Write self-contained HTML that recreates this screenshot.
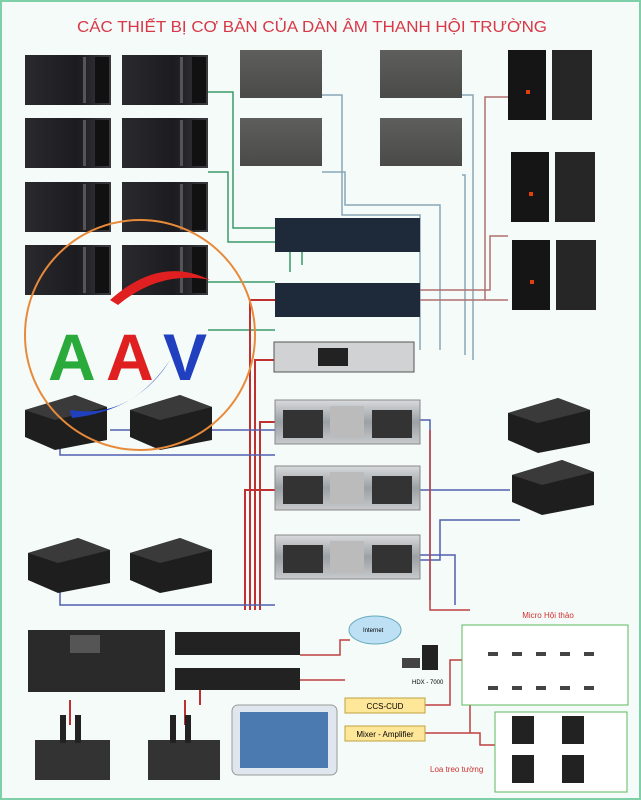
<!DOCTYPE html><html><head><meta charset="utf-8"><style>body{margin:0}svg{display:block}</style></head><body>
<svg width="641" height="800" viewBox="0 0 641 800" xmlns="http://www.w3.org/2000/svg" font-family="Liberation Sans, sans-serif">
<defs>
<linearGradient id="spk" x1="0" x2="1"><stop offset="0" stop-color="#2a2a2e"/><stop offset="0.6" stop-color="#1c1c20"/><stop offset="1" stop-color="#3a3a3e"/></linearGradient>
<linearGradient id="gry" x1="0" y1="0" x2="0" y2="1"><stop offset="0" stop-color="#5e5e5c"/><stop offset="1" stop-color="#4a4a48"/></linearGradient>
<linearGradient id="amp" x1="0" y1="0" x2="0" y2="1"><stop offset="0" stop-color="#d8dadc"/><stop offset="0.5" stop-color="#9aa0a4"/><stop offset="1" stop-color="#c8cacc"/></linearGradient>
<g id="ls"><rect width="86" height="50" fill="url(#spk)"/><rect x="58" y="2" width="3" height="46" fill="#555"/><rect x="70" y="2" width="14" height="46" fill="#111"/></g>
<g id="gs"><rect width="82" height="48" fill="url(#gry)"/></g>
<g id="jbl"><rect width="38" height="70" fill="#151515"/><rect x="44" width="40" height="70" fill="#262626"/><rect x="18" y="40" width="4" height="4" fill="#e04010"/></g>
<g id="sub"><polygon points="0,15 50,0 82,12 82,45 30,55 0,42" fill="#1e1e1e"/><polygon points="0,15 50,0 82,12 30,25" fill="#3a3a3a"/></g>
<g id="am"><rect width="145" height="44" fill="url(#amp)" stroke="#888"/><rect x="8" y="10" width="40" height="28" fill="#333"/><rect x="97" y="10" width="40" height="28" fill="#333"/><rect x="55" y="6" width="34" height="32" fill="#bbb"/></g>
</defs>
<rect width="641" height="800" fill="#f4fbf8"/>
<rect x="1" y="1" width="639" height="798" fill="none" stroke="#7fd0a8" stroke-width="2"/>
<text x="312" y="32" text-anchor="middle" font-size="16" fill="#d83848" textLength="470" lengthAdjust="spacingAndGlyphs">CÁC THIẾT BỊ CƠ BẢN CỦA DÀN ÂM THANH HỘI TRƯỜNG</text>
<g fill="none" stroke-width="1.5">
<path d="M208 92H233V228H290V272M208 172H228V242H302V265M208 282H275M208 330H275" stroke="#3a9a6a"/>
<path d="M322 95H342V215H420V350M322 172H345V205H440V350M462 95H473V360M462 175H465V355" stroke="#8aa6b8"/>
<path d="M508 97H485V300H415M508 236H490V290H415M508 300H420" stroke="#b07070"/>
<path d="M275 300H250V610M275 360H255V610M275 422H260V610M275 490H245V610" stroke="#c03030" stroke-width="2"/>
<path d="M60 445V455H275M110 430H275M420 420H430V600M420 490H510M420 560H440V520H520M60 590V605H275M420 555H455V605" stroke="#5060b0"/>
<path d="M430 430V610H470" stroke="#c04040"/>
<path d="M300 655H340V640H350M300 680H345" stroke="#c04040"/>
<path d="M425 705H450V660H462M425 733H470V650M425 733H480V745H495" stroke="#c04040"/>
<path d="M70 700V725M185 700V725M200 690V705" stroke="#c03030" stroke-width="2"/>
</g>
<use href="#ls" x="25" y="55"/><use href="#ls" x="122" y="55"/>
<use href="#ls" x="25" y="118"/><use href="#ls" x="122" y="118"/>
<use href="#ls" x="25" y="182"/><use href="#ls" x="122" y="182"/>
<use href="#ls" x="25" y="245"/><use href="#ls" x="122" y="245"/>
<use href="#gs" x="240" y="50"/><use href="#gs" x="380" y="50"/>
<use href="#gs" x="240" y="118"/><use href="#gs" x="380" y="118"/>
<use href="#jbl" x="508" y="50"/><use href="#jbl" x="511" y="152"/><use href="#jbl" x="512" y="240"/>
<rect x="275" y="218" width="145" height="34" fill="#1e2a3a"/>
<rect x="275" y="283" width="145" height="34" fill="#1e2a3a"/>
<rect x="274" y="342" width="140" height="30" fill="#d0d2d4" stroke="#555"/><rect x="318" y="348" width="30" height="18" fill="#222"/>
<use href="#am" x="275" y="400"/><use href="#am" x="275" y="466"/><use href="#am" x="275" y="535"/>
<use href="#sub" x="25" y="395"/><use href="#sub" x="130" y="395"/>
<use href="#sub" x="508" y="398"/><use href="#sub" x="512" y="460"/>
<use href="#sub" x="28" y="538"/><use href="#sub" x="130" y="538"/>
<circle cx="140" cy="335" r="115" fill="none" stroke="#e88a3a" stroke-width="2"/>
<path d="M110 300Q160 255 210 280Q160 270 118 305Z" fill="#e02020"/>
<path d="M70 410Q130 420 170 360Q140 410 72 418Z" fill="#2040c0"/>
<text x="48" y="380" font-size="66" font-weight="bold" fill="#2aaa3a">A</text>
<text x="106" y="380" font-size="66" font-weight="bold" fill="#e02020">A</text>
<text x="163" y="380" font-size="66" font-weight="bold" fill="#2040c0">V</text>
<rect x="28" y="630" width="137" height="62" fill="#2a2a2a"/><rect x="70" y="635" width="30" height="18" fill="#555"/>
<rect x="175" y="632" width="125" height="23" fill="#222"/><rect x="175" y="668" width="125" height="22" fill="#222"/>
<rect x="35" y="740" width="75" height="40" fill="#333"/><rect x="148" y="740" width="72" height="40" fill="#333"/>
<rect x="60" y="715" width="6" height="28" fill="#222"/><rect x="75" y="715" width="6" height="28" fill="#222"/>
<rect x="170" y="715" width="6" height="28" fill="#222"/><rect x="185" y="715" width="6" height="28" fill="#222"/>
<rect x="232" y="705" width="105" height="70" rx="6" fill="#dfe6ee" stroke="#999"/><rect x="240" y="712" width="88" height="56" fill="#4a7ab0"/>
<ellipse cx="375" cy="630" rx="26" ry="14" fill="#bde0f4" stroke="#6ab"/><text x="363" y="632" font-size="6">Internet</text>
<rect x="422" y="645" width="16" height="25" fill="#222"/><rect x="402" y="658" width="18" height="10" fill="#444"/>
<text x="412" y="684" font-size="6">HDX - 7000</text>
<rect x="345" y="698" width="80" height="15" fill="#ffe79a" stroke="#c0a040"/><text x="385" y="709" font-size="8" text-anchor="middle">CCS-CUD</text>
<rect x="345" y="726" width="80" height="15" fill="#ffe79a" stroke="#c0a040"/><text x="385" y="737" font-size="8" text-anchor="middle">Mixer - Amplifier</text>
<text x="548" y="618" font-size="8" fill="#d03030" text-anchor="middle">Micro Hội thảo</text>
<rect x="462" y="625" width="166" height="80" fill="#fff" stroke="#5cb85c"/>
<g fill="#444"><rect x="488" y="652" width="10" height="4"/><rect x="512" y="652" width="10" height="4"/><rect x="536" y="652" width="10" height="4"/><rect x="560" y="652" width="10" height="4"/><rect x="584" y="652" width="10" height="4"/>
<rect x="488" y="686" width="10" height="4"/><rect x="512" y="686" width="10" height="4"/><rect x="536" y="686" width="10" height="4"/><rect x="560" y="686" width="10" height="4"/><rect x="584" y="686" width="10" height="4"/></g>
<rect x="495" y="712" width="132" height="80" fill="#fff" stroke="#5cb85c"/>
<g fill="#222"><rect x="512" y="716" width="22" height="28"/><rect x="562" y="716" width="22" height="28"/><rect x="512" y="755" width="22" height="28"/><rect x="562" y="755" width="22" height="28"/></g>
<text x="430" y="772" font-size="8" fill="#d03030">Loa treo tường</text>
</svg></body></html>
